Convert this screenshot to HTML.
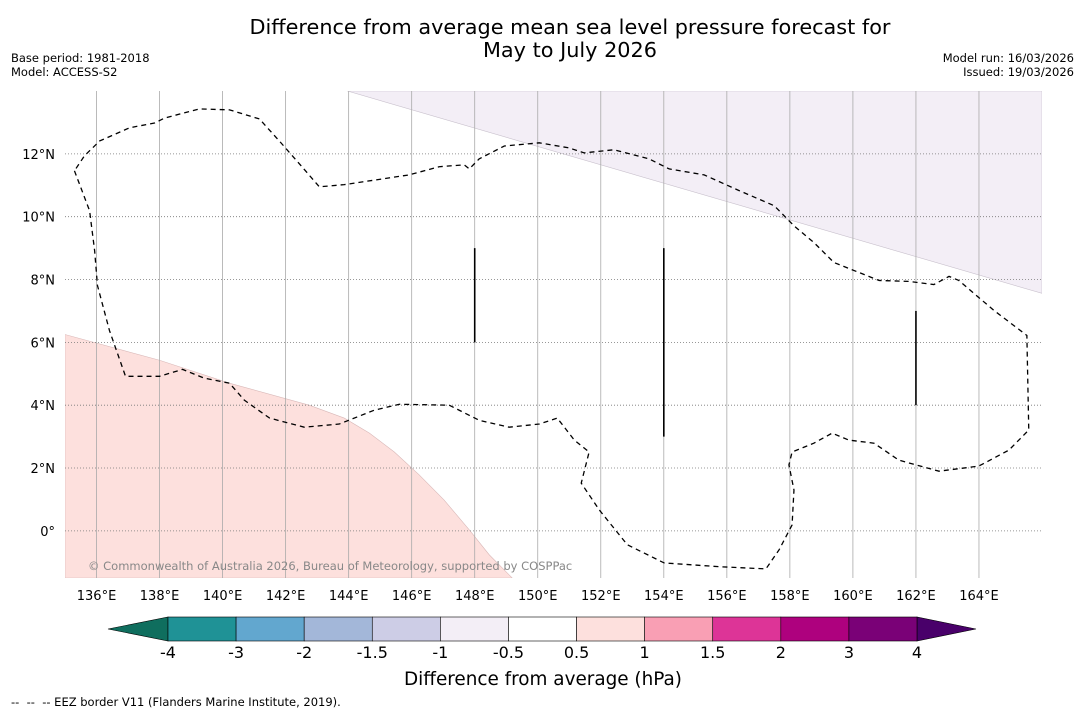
<!DOCTYPE html>
<html><head><meta charset="utf-8"><style>
body{margin:0;background:#fff;font-family:"DejaVu Sans","Liberation Sans",sans-serif;}
svg{display:block;font-family:"DejaVu Sans","Liberation Sans",sans-serif;}
</style></head><body>
<svg id="chart" width="1085" height="713" xmlns="http://www.w3.org/2000/svg">
<text x="570" y="34" font-size="20.8" text-anchor="middle">Difference from average mean sea level pressure forecast for</text>
<text x="570" y="57" font-size="20.8" text-anchor="middle">May to July 2026</text>
<text x="11" y="62" font-size="11.5">Base period: 1981-2018</text>
<text x="11" y="76" font-size="11.5">Model: ACCESS-S2</text>
<text x="1074" y="62" font-size="11.5" text-anchor="end">Model run: 16/03/2026</text>
<text x="1074" y="76" font-size="11.5" text-anchor="end">Issued: 19/03/2026</text>
<g id="map"></g>
<g id="cbar"></g>
<text x="543" y="685" font-size="18.4" text-anchor="middle">Difference from average (hPa)</text>
<text x="11" y="706" font-size="11.5" style="white-space:pre">--  --  -- EEZ border V11 (Flanders Marine Institute, 2019).</text>
</svg>
<script>
const lonTicks=[136,138,140,142,144,146,148,150,152,154,156,158,160,162,164];
const latTicks=[0,2,4,6,8,10,12];
const eezLon=[135.30,135.78,135.94,136.03,136.41,136.92,138.00,138.73,139.42,140.22,140.69,141.49,142.59,143.70,144.81,145.61,147.19,148.14,149.09,150.05,150.62,151.16,151.63,151.38,151.95,152.84,154.01,155.75,157.24,157.66,158.07,158.13,157.97,158.07,158.76,159.34,159.87,160.67,161.46,162.73,163.99,164.95,165.58,165.52,164.47,163.36,163.05,162.57,161.78,160.83,159.40,158.77,158.13,157.66,157.50,156.39,155.28,154.17,153.53,152.42,151.47,150.99,150.05,148.94,148.14,147.83,147.67,146.87,145.92,143.86,143.07,142.44,141.80,141.17,140.22,139.27,138.16,137.84,137.05,136.10,135.62,135.30];
const eezLat=[11.46,10.19,8.92,7.81,6.38,4.92,4.92,5.14,4.86,4.70,4.16,3.59,3.30,3.40,3.84,4.03,4.00,3.52,3.30,3.40,3.59,2.89,2.51,1.52,0.67,-0.44,-1.02,-1.14,-1.21,-0.60,0.19,1.30,2.10,2.51,2.79,3.11,2.89,2.79,2.25,1.90,2.06,2.57,3.21,6.22,7.02,7.97,8.10,7.84,7.94,7.97,8.54,9.17,9.71,10.19,10.35,10.83,11.33,11.52,11.84,12.13,12.03,12.19,12.35,12.25,11.84,11.52,11.65,11.59,11.33,11.02,10.95,11.68,12.41,13.11,13.40,13.43,13.14,12.98,12.83,12.41,11.94,11.46];
const posLon=[135,138.0,140.22,142.75,143.86,144.66,145.45,146.24,147.03,147.83,148.46,149.19,135];
const posLat=[6.25,5.43,4.70,4.0,3.59,3.11,2.51,1.78,0.98,0.03,-0.76,-1.5,-1.5];
const negLon=[143.96,166,166];
const negLat=[14,7.56,14];
const segLon=[148,154,162];
const segLat0=[6,3,4];
const segLat1=[9,9,7];
const levels=[-4,-3,-2,-1.5,-1,-0.5,0.5,1,1.5,2,3,4];
const colors=["#1f9296","#62a7cf","#a3b7d9","#cdcde6","#f3eef6","#ffffff","#fde0dd","#f99fb4","#dd3497","#ae017e","#7a0177"];
const minColor="#0f6e5e", maxColor="#49006a";

const X0=65,X1=1042,Y0=91,Y1=578,LON0=135,LON1=166,LAT0=-1.5,LAT1=14;
const xs=l=>X0+(l-LON0)/(LON1-LON0)*(X1-X0);
const ys=l=>Y1-(l-LAT0)/(LAT1-LAT0)*(Y1-Y0);
const NS="http://www.w3.org/2000/svg";
const map=document.getElementById('map');
function mk(tag,attrs,parent){const e=document.createElementNS(NS,tag);for(const k in attrs)e.setAttribute(k,attrs[k]);parent.appendChild(e);return e;}
const cp=mk('clipPath',{id:'clip'},map);mk('rect',{x:X0,y:Y0,width:X1-X0,height:Y1-Y0},cp);
const g=mk('g',{'clip-path':'url(#clip)'},map);
let p=mk('polygon',{points:posLon.map((l,i)=>xs(l)+','+ys(posLat[i])).join(' '),fill:'#fde0dd',stroke:'#d9b8b8','stroke-width':0.6},g);


p=mk('polygon',{points:negLon.map((l,i)=>xs(l)+','+ys(negLat[i])).join(' '),fill:'#f3eef6',stroke:'#c8c0cc','stroke-width':0.6},g);


lonTicks.forEach(l=>{
  const ln=mk('line',{x1:xs(l),x2:xs(l),y1:Y0,y2:Y1,stroke:'#aaa','stroke-width':0.8},g);
  
  
  const t=mk('text',{x:xs(l),y:600,'font-size':13,'text-anchor':'middle'},map);
  t.textContent=l+'°E';
  
  
});
latTicks.forEach(l=>{
  const ln=mk('line',{x1:X0,x2:X1,y1:ys(l),y2:ys(l),stroke:'#777','stroke-width':0.8,'stroke-dasharray':'1,2'},g);
  
  
  const t=mk('text',{x:55,y:ys(l)+5,'font-size':13,'text-anchor':'end'},map);
  t.textContent=l===0?'0°':l+'°N';
  
  
});
const eez=mk('polyline',{points:eezLon.map((l,i)=>xs(l)+','+ys(eezLat[i])).join(' '),fill:'none',stroke:'#000','stroke-width':1.3,'stroke-dasharray':'5,4'},g);


segLon.forEach((l,i)=>{
  const s=mk('line',{x1:xs(l),x2:xs(l),y1:ys(segLat0[i]),y2:ys(segLat1[i]),stroke:'#000','stroke-width':1.6},g);
  
  
});
const wm=mk('text',{x:88,y:570,'font-size':11.5,fill:'#888'},map);
wm.textContent='© Commonwealth of Australia 2026, Bureau of Meteorology, supported by COSPPac';



const cb=document.getElementById('cbar');
const CB0=168,CB1=917,CT=617,CBt=641;
const cx=i=>CB0+i*(CB1-CB0)/(levels.length-1);
let tri=mk('polygon',{points:`${CB0},${CT} ${CB0},${CBt} 108,${(CT+CBt)/2}`,fill:minColor,stroke:'#000','stroke-width':0.6},cb);


tri=mk('polygon',{points:`${CB1},${CT} ${CB1},${CBt} 976,${(CT+CBt)/2}`,fill:maxColor,stroke:'#000','stroke-width':0.6},cb);


colors.forEach((c,i)=>{
  const r=mk('rect',{x:cx(i),y:CT,width:cx(i+1)-cx(i),height:CBt-CT,fill:c,stroke:'#000','stroke-width':0.6},cb);
  
  
});
levels.forEach((v,i)=>{
  const t=mk('text',{x:cx(i),y:658,'font-size':16,'text-anchor':'middle'},cb);
  t.textContent=v;
  
  
});
</script>
</body></html>
